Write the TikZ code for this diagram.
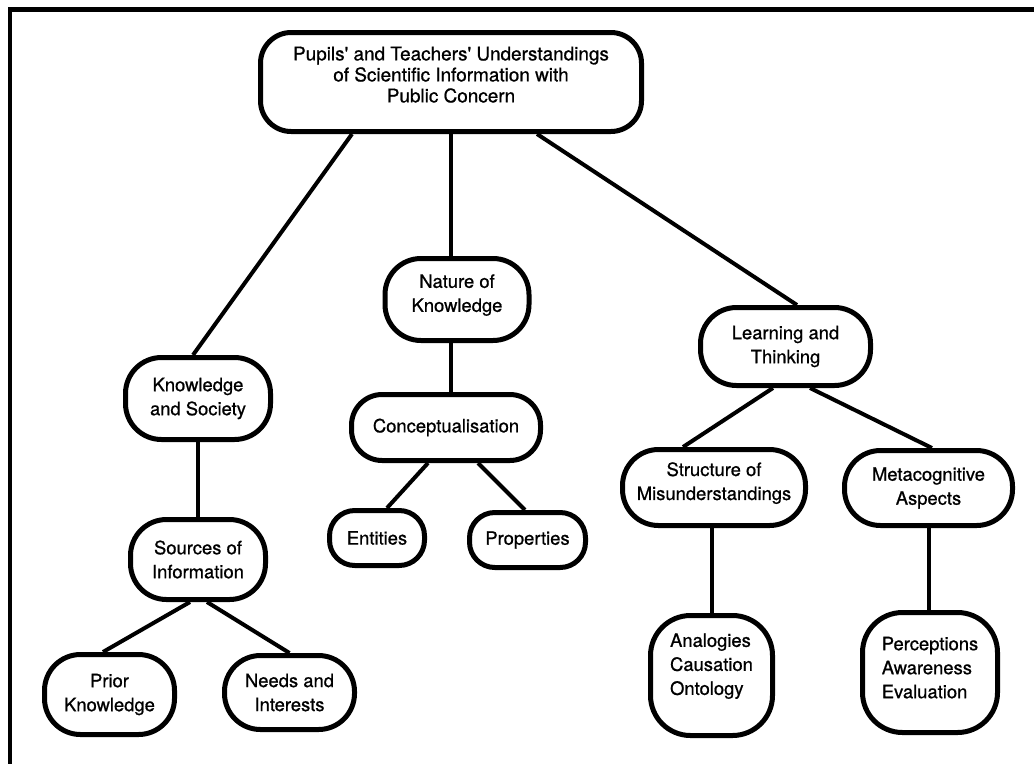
\documentclass[tikz,border=0pt]{standalone}
\usepackage{fontspec}
\setmainfont{TeX Gyre Heros}
\newfontfamily\boxface{TeX Gyre Heros}[FakeBold=0.8]
\begin{document}
\begin{tikzpicture}[x=0.75pt,y=-0.75pt,
  box/.style={draw, line width=3.75pt, rounded corners=27pt, fill=white,
    align=center, inner sep=0pt, font=\boxface\fontsize{13.8pt}{18pt}\selectfont},
  conn/.style={line width=3pt},
  frame/.style={line width=3.2pt}]
\useasboundingbox (0,0) rectangle (1034,764);
% frame (top and left edges only)
\coordinate (fc) at (10,9.5);
\coordinate (fr) at (1034,9.5);
\coordinate (fb) at (10,764);
\draw[frame] (fr) -- (fc) -- (fb);
% nodes
\node[box, rounded corners=23pt, minimum width=285.75pt, minimum height=74.25pt,
  text depth=11.25pt, font=\boxface\fontsize{14.2pt}{15.75pt}\selectfont] (top) at (451,82)
  {Pupils' and Teachers' Understandings\\of Scientific Information with\\Public Concern};
\node[box, minimum width=108.75pt, minimum height=61.5pt] (ks) at (198,398.5) {Knowledge\\and Society};
\node[box, minimum width=108pt, minimum height=61.5pt, text depth=9.6pt] (nat) at (457,299.5) {Nature of\\Knowledge};
\node[box, rounded corners=23pt, minimum width=141.75pt, minimum height=49.5pt] (con) at (446,427.5) {Conceptualisation};
\node[box, rounded corners=19pt, minimum width=71.25pt, minimum height=41.25pt] (ent) at (377,538) {Entities};
\node[box, rounded corners=19pt, minimum width=87pt, minimum height=41.25pt] (prop) at (527.5,540) {Properties};
\node[box, minimum width=101.25pt, minimum height=60pt] (src) at (198,559.5) {Sources of\\Information};
\node[box, minimum width=97.5pt, minimum height=60pt] (prior) at (109.5,694.5) {Prior\\Knowledge};
\node[box, minimum width=97.5pt, minimum height=55.5pt] (needs) at (289.5,692.5) {Needs and\\Interests};
\node[box, minimum width=127.5pt, minimum height=58.5pt] (lt) at (785.5,346.5) {Learning and\\Thinking};
\node[box, minimum width=137.25pt, minimum height=57pt, text depth=9.6pt] (str) at (714,487.5) {Structure of\\Misunderstandings};
\node[box, minimum width=126pt, minimum height=56.25pt] (meta) at (928.5,488) {Metacognitive\\Aspects};
\node[box, rounded corners=30pt, align=left, minimum width=91.5pt, minimum height=90pt, text depth=17pt] (ana) at (711.5,675.5) {Analogies\\Causation\\Ontology};
\node[box, rounded corners=30pt, align=left, minimum width=101.25pt, minimum height=90pt, text depth=7.5pt] (perc) at (930,672.5) {Perceptions\\Awareness\\Evaluation};
% connectors
\draw[conn] ([xshift=-74.25pt]top.south) -- ([xshift=-3.75pt]ks.north);
\draw[conn] (top.south) -- (top.south |- nat.north);
\draw[conn] (nat.south -| top.south) -- (con.north -| top.south);
\draw[conn] ([xshift=64.5pt]top.south) -- ([xshift=8.6pt]lt.north);
\draw[conn] ([xshift=-13.5pt]con.south) -- ([xshift=7.5pt]ent.north);
\draw[conn] ([xshift=24pt]con.south) -- ([xshift=-1.9pt]prop.north);
\draw[conn] (ks.south) -- (src.north);
\draw[conn] ([xshift=-6pt]src.south) -- ([xshift=-4.9pt]prior.north);
\draw[conn] ([xshift=6.75pt]src.south) -- (needs.north);
\draw[conn] ([xshift=-9.4pt]lt.south) -- ([xshift=-23.25pt]str.north);
\draw[conn] ([xshift=18.4pt]lt.south) -- ([xshift=2.6pt]meta.north);
\draw[conn] (str.south -| ana.north) -- (ana.north);
\draw[conn] (meta.south) -- (meta.south |- perc.north);
\end{tikzpicture}
\end{document}
